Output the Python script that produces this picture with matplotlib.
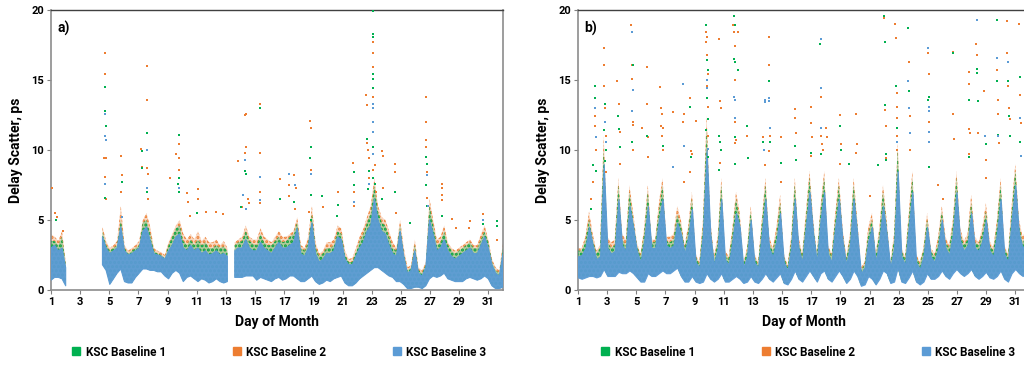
import numpy as np
import matplotlib
matplotlib.use("Agg")
import matplotlib.pyplot as plt
from matplotlib.lines import Line2D
from matplotlib.colors import to_rgba

plt.rcParams['font.family'] = ['Roboto', 'DejaVu Sans']
plt.rcParams['font.weight'] = 'bold'
plt.rcParams['hatch.linewidth'] = 1.4

nan = np.nan

# series names / colours
names = ['KSC Baseline 1', 'KSC Baseline 2', 'KSC Baseline 3']
colors = ['#00B050', '#ED7D31', '#5B9BD5']
day_ticks = list(range(1, 32, 2))

# ---- panel a: dense band, 4 readings per day (low edge, top of each series) ----
lo_a = [[0.7, 0.9, 0.9, 0.8], [0.3, nan, nan, nan], [nan, nan, nan, nan], [nan, nan, 1.8, 1.4],
        [0.4, 0.8, 1.2, 1.5], [0.6, 0.5, 0.5, 0.9], [1.2, 1.5, 1.5, 1.4], [1.4, 1.3, 1.3, 1.0],
        [0.8, 1.2, 1.4, 1.2], [0.6, 0.9, 1.0, 0.8], [0.6, 0.8, 0.7, 0.5], [0.6, 0.8, 0.6, 0.5],
        [0.6, nan, 0.9, 0.9], [0.9, 1.0, 1.0, 1.0], [0.7, 0.9, 0.8, 0.7], [0.6, 0.8, 0.9, 0.7],
        [0.8, 1.0, 1.0, 0.8], [0.6, 0.6, 0.8, 1.0], [0.6, 0.4, 0.5, 0.7], [0.6, 0.8, 0.9, 1.0],
        [0.5, 0.3, 0.3, 0.5], [0.8, 1.0, 1.2, 1.4], [1.6, 1.6, 1.4, 1.2], [1.0, 0.9, 0.6, 0.6],
        [0.4, 0.1, 0.1, 0.2], [0.2, 0.1, 0.3, 0.8], [1.0, 0.9, 1.0, 1.2], [0.8, 0.7, 0.6, 0.6],
        [0.6, 0.8, 0.9, 0.8], [0.7, 0.8, 1.0, 0.8], [0.3, 0.1, 0.1, 0.2]]
blue_a = [[3.0, 3.2, 2.8, 3.0], [1.6, nan, nan, nan], [nan, nan, nan, nan], [nan, nan, 3.8, 3.0],
          [2.6, 2.8, 3.0, 4.5], [2.8, 2.5, 2.6, 2.8], [3.0, 4.2, 4.5, 3.5], [2.6, 2.5, 2.4, 2.2],
          [2.8, 3.2, 3.8, 4.0], [3.0, 2.8, 3.2, 2.8], [3.0, 2.6, 2.8, 2.5], [2.6, 2.8, 2.5, 2.6],
          [2.4, nan, 2.8, 3.0], [3.0, 3.6, 3.0, 2.8], [2.8, 3.4, 3.0, 2.8], [2.6, 3.0, 3.4, 3.0],
          [3.0, 3.2, 3.4, 4.4], [2.6, 2.4, 3.0, 4.8], [2.6, 2.0, 2.2, 2.6], [2.6, 2.8, 3.8, 3.6],
          [2.2, 1.8, 1.8, 2.4], [3.0, 3.4, 4.2, 4.6], [6.5, 5.0, 4.2, 4.0], [3.2, 2.6, 2.4, 4.2],
          [2.4, 1.2, 1.4, 2.8], [1.2, 1.0, 1.6, 5.0], [4.0, 2.8, 3.0, 3.6], [2.8, 2.4, 2.2, 2.4],
          [2.6, 2.8, 3.0, 2.6], [2.6, 3.2, 3.8, 3.0], [1.8, 1.2, 1.0, 2.6]]
orange_a = [[4.0, 3.8, 3.5, 4.2], [2.0, nan, nan, nan], [nan, nan, nan, nan], [nan, nan, 4.5, 3.5],
            [3.0, 3.2, 3.5, 6.0], [3.2, 2.8, 3.0, 3.2], [3.5, 5.0, 5.5, 4.5], [3.0, 2.8, 2.7, 2.5],
            [3.4, 4.0, 4.6, 5.0], [4.0, 3.6, 4.0, 3.6], [4.2, 3.5, 3.8, 3.4], [3.4, 3.6, 3.2, 3.5],
            [3.0, nan, 3.4, 3.6], [3.8, 4.6, 3.8, 3.6], [3.6, 4.4, 3.8, 3.6], [3.4, 3.8, 4.2, 3.8],
            [3.8, 4.0, 4.2, 5.2], [3.2, 3.0, 3.8, 6.0], [3.4, 2.6, 2.8, 3.4], [3.4, 3.6, 4.6, 4.4],
            [2.8, 2.2, 2.3, 3.0], [3.8, 4.4, 5.2, 6.0], [8.0, 6.0, 5.2, 5.0], [4.2, 3.4, 3.0, 5.0],
            [3.0, 1.6, 1.8, 3.6], [1.6, 1.4, 2.0, 6.5], [5.0, 3.6, 3.8, 4.6], [3.4, 3.0, 2.8, 3.0],
            [3.2, 3.4, 3.6, 3.2], [3.2, 4.0, 4.6, 3.6], [2.2, 1.6, 1.4, 3.4]]
green_a = [[3.5, 3.5, 3.2, 3.8], [1.8, nan, nan, nan], [nan, nan, nan, nan], [nan, nan, 4.2, 3.2],
           [2.8, 3.0, 3.2, 5.0], [3.0, 2.6, 2.8, 3.0], [3.2, 4.8, 5.0, 4.0], [2.8, 2.6, 2.5, 2.3],
           [3.2, 3.8, 4.4, 4.6], [3.5, 3.2, 3.6, 3.2], [3.6, 3.2, 3.4, 3.0], [3.0, 3.2, 3.0, 3.1],
           [2.8, nan, 3.2, 3.4], [3.5, 4.2, 3.5, 3.3], [3.2, 4.0, 3.4, 3.2], [3.2, 3.5, 3.8, 3.4],
           [3.5, 3.8, 4.0, 4.8], [3.0, 2.8, 3.4, 5.4], [3.0, 2.4, 2.6, 3.0], [3.0, 3.2, 4.2, 4.0],
           [2.5, 2.0, 2.0, 2.7], [3.5, 4.0, 4.8, 5.5], [7.5, 5.6, 4.8, 4.6], [3.8, 3.0, 2.8, 4.6],
           [2.6, 1.4, 1.6, 3.2], [1.4, 1.2, 1.8, 6.0], [4.6, 3.2, 3.4, 4.2], [3.2, 2.8, 2.6, 2.8],
           [3.0, 3.2, 3.4, 3.0], [3.0, 3.6, 4.2, 3.4], [2.0, 1.4, 1.2, 3.0]]

# panel a: isolated high readings (day, ps)
green_pts_a = [(1.35, 5.0), (4.7, 14.5), (4.72, 12.8), (4.75, 11.7), (4.7, 6.6), (5.9, 7.7), (7.25, 9.9),
               (7.25, 8.7), (7.6, 11.2), (7.6, 7.0), (9.8, 11.1), (9.75, 8.0), (9.7, 7.6), (9.8, 7.0),
               (11.0, 5.5), (14.3, 8.5), (14.35, 8.3), (14.0, 5.9), (15.3, 13.0), (16.7, 6.5), (17.7, 6.3),
               (18.8, 10.2), (18.75, 9.4), (18.8, 6.8), (18.8, 5.0), (19.6, 6.7), (20.65, 6.1), (20.6, 5.3),
               (21.75, 8.4), (21.8, 7.5), (22.7, 10.8), (22.8, 8.5), (22.75, 7.2), (23.05, 19.9),
               (23.05, 18.3), (23.07, 18.1), (23.05, 15.4), (23.05, 15.1), (23.05, 14.4), (23.1, 10.2),
               (23.1, 8.0), (23.25, 7.6), (23.7, 6.5), (24.6, 7.0), (25.6, 4.8), (26.75, 9.5), (26.8, 9.0),
               (26.75, 7.5), (26.8, 6.0), (27.85, 5.3), (30.6, 4.7), (31.6, 4.9), (31.6, 4.6)]
orange_pts_a = [(1.05, 7.3), (1.3, 5.5), (1.4, 5.2), (1.8, 4.2), (4.68, 16.9), (4.7, 15.4), (4.66, 9.4),
                (4.75, 9.4), (4.72, 8.1), (4.8, 6.5), (5.8, 9.6), (5.85, 8.2), (5.8, 7.0), (7.2, 10.1),
                (7.25, 8.8), (7.55, 16.0), (7.55, 13.6), (7.6, 8.7), (7.62, 8.3), (7.65, 6.5), (9.15, 8.0),
                (9.55, 9.7), (9.75, 9.4), (9.8, 10.4), (9.75, 8.6), (10.3, 6.9), (10.4, 6.3), (10.5, 5.3),
                (11.05, 7.2), (11.1, 6.5), (11.6, 5.6), (12.35, 5.6), (12.8, 5.4), (13.8, 9.2), (14.3, 12.5),
                (14.35, 12.55), (14.35, 10.2), (14.3, 9.8), (14.1, 5.9), (14.5, 6.5), (14.55, 6.2),
                (15.3, 13.3), (15.3, 9.8), (15.35, 7.0), (15.3, 6.2), (16.7, 7.9), (17.3, 7.5), (17.3, 6.7),
                (17.7, 8.2), (17.8, 7.3), (17.75, 5.8), (18.75, 12.1), (18.8, 11.6), (18.8, 8.6), (18.7, 5.6),
                (19.6, 6.7), (19.65, 5.9), (20.65, 7.0), (21.7, 9.1), (21.75, 7.0), (21.8, 6.0), (22.6, 13.9),
                (22.65, 13.2), (22.7, 10.5), (22.75, 10.0), (22.8, 9.4), (22.8, 8.0), (23.05, 17.7),
                (23.05, 16.9), (23.05, 15.95), (23.05, 13.8), (23.1, 8.6), (23.25, 8.9), (23.3, 7.0),
                (23.7, 9.9), (23.75, 9.6), (23.75, 7.3), (24.6, 9.0), (24.6, 8.4), (24.65, 5.5), (26.7, 13.8),
                (26.7, 12.0), (26.75, 10.7), (26.75, 10.2), (26.8, 8.4), (26.8, 6.6), (27.8, 7.6), (27.8, 7.3),
                (27.85, 6.8), (27.8, 6.4), (28.5, 5.1), (28.8, 4.4), (29.7, 4.4), (29.75, 4.9), (30.6, 5.4),
                (31.6, 3.6)]
blue_pts_a = [(4.7, 12.6), (4.72, 11.0), (4.75, 10.7), (4.7, 7.6), (5.9, 5.2), (7.6, 10.0), (7.6, 7.3),
              (9.75, 7.3), (14.3, 9.3), (14.2, 6.8), (14.4, 5.8), (15.3, 8.1), (15.3, 6.4), (17.3, 8.3),
              (17.75, 7.5), (18.8, 8.3), (21.8, 6.3), (22.8, 7.6), (23.05, 13.3), (23.07, 13.0), (23.05, 12.0),
              (23.1, 11.3), (23.1, 9.7), (26.8, 8.2), (26.85, 6.0), (30.6, 5.0)]

# ---- panel b ----
lo_b = [[0.9, 0.8, 0.9, 1.0], [1.0, 0.9, 1.0, 1.5], [1.0, 1.0, 1.0, 1.3], [1.2, 1.2, 1.4, 1.2],
        [0.9, 0.6, 0.6, 1.2], [1.0, 1.0, 1.2, 1.4], [1.2, 1.2, 1.4, 1.6], [1.0, 0.6, 0.6, 1.0],
        [0.6, 0.5, 0.6, 1.2], [0.8, 0.6, 0.8, 1.2], [0.6, 0.6, 0.8, 1.0], [0.8, 0.5, 0.6, 1.0],
        [0.6, 0.5, 0.8, 1.2], [0.8, 0.6, 0.9, 1.2], [0.5, 0.4, 0.8, 1.4], [0.8, 0.6, 1.0, 1.4],
        [1.0, 0.6, 1.2, 1.4], [0.8, 0.6, 1.0, 1.4], [1.0, 0.5, 0.8, 1.4], [1.0, 0.3, 0.4, 1.0],
        [0.8, 0.4, 0.8, 1.4], [1.2, 0.5, 0.6, 1.6], [0.6, 0.5, 0.9, 1.4], [0.6, 0.4, 0.6, 1.2],
        [0.8, 0.8, 1.0, 1.4], [1.0, 0.8, 1.2, 1.5], [1.2, 1.0, 1.2, 1.5], [1.0, 0.8, 1.0, 1.3],
        [0.9, 0.8, 1.0, 1.4], [0.8, 0.6, 1.2, 1.5], [1.2, 1.0, 1.2, 1.2]]
blue_b = [[2.4, 2.5, 3.0, 4.5], [3.2, 2.2, 2.4, 9.0], [3.0, 2.6, 2.8, 6.5], [3.2, 2.8, 6.0, 4.5],
          [2.8, 2.0, 3.5, 6.0], [3.0, 3.0, 5.0, 6.5], [3.2, 3.0, 3.2, 4.8], [4.0, 2.6, 3.8, 5.8],
          [2.0, 1.6, 4.0, 10.0], [4.0, 1.8, 3.0, 6.5], [2.2, 1.8, 3.5, 5.5], [4.5, 1.6, 2.4, 5.0],
          [2.0, 1.6, 4.0, 6.5], [3.0, 2.4, 3.5, 5.5], [2.0, 1.4, 3.0, 6.5], [3.0, 2.0, 4.5, 7.0],
          [4.0, 2.0, 5.0, 7.0], [2.6, 2.0, 4.5, 6.5], [3.5, 1.8, 3.2, 6.5], [4.0, 1.2, 1.6, 3.5],
          [4.5, 2.0, 3.5, 6.0], [4.0, 1.6, 3.0, 8.5], [2.4, 1.8, 4.5, 7.0], [2.0, 1.5, 2.4, 4.5],
          [2.4, 2.0, 3.0, 5.0], [3.0, 2.5, 4.0, 7.0], [3.5, 2.8, 3.2, 5.5], [3.0, 2.8, 3.5, 5.0],
          [2.8, 2.4, 4.0, 6.5], [2.6, 2.0, 5.0, 7.5], [4.0, 3.0, 3.5, 3.5]]
orange_b = [[3.0, 3.0, 3.8, 5.6], [4.0, 2.8, 3.2, 11.0], [3.8, 3.4, 3.6, 8.0], [4.0, 3.6, 7.5, 5.5],
            [3.4, 2.6, 4.4, 7.5], [3.6, 3.6, 6.2, 8.0], [3.8, 3.8, 4.0, 6.0], [5.0, 3.2, 4.6, 7.0],
            [2.6, 2.0, 5.0, 12.5], [5.0, 2.4, 3.8, 8.0], [2.8, 2.4, 4.4, 7.0], [5.5, 2.0, 3.0, 6.0],
            [2.6, 2.0, 5.0, 8.0], [3.8, 3.0, 4.5, 6.8], [2.6, 1.8, 3.8, 8.0], [3.8, 2.6, 5.5, 8.5],
            [5.0, 2.6, 6.0, 8.5], [3.2, 2.6, 5.5, 8.0], [4.4, 2.4, 4.0, 8.0], [5.0, 1.6, 2.0, 4.5],
            [5.5, 2.6, 4.4, 7.5], [5.0, 2.0, 4.0, 10.5], [3.0, 2.4, 5.5, 8.5], [2.6, 2.0, 3.0, 5.5],
            [3.0, 2.6, 3.8, 6.0], [3.8, 3.2, 5.0, 8.5], [4.4, 3.5, 4.0, 6.8], [3.8, 3.4, 4.4, 6.2],
            [3.5, 3.0, 5.0, 8.0], [3.2, 2.6, 6.0, 9.0], [5.0, 3.8, 4.4, 4.4]]
green_b = [[2.8, 2.8, 3.5, 5.0], [3.6, 2.6, 3.0, 10.0], [3.4, 3.0, 3.2, 7.5], [3.6, 3.2, 7.0, 5.0],
           [3.2, 2.4, 4.0, 7.0], [3.4, 3.4, 5.6, 7.5], [3.5, 3.4, 3.6, 5.4], [4.6, 3.0, 4.2, 6.5],
           [2.4, 1.8, 4.5, 11.5], [4.6, 2.2, 3.4, 7.5], [2.6, 2.2, 4.0, 6.5], [5.0, 1.8, 2.8, 5.6],
           [2.4, 1.8, 4.6, 7.5], [3.4, 2.8, 4.0, 6.2], [2.4, 1.6, 3.4, 7.5], [3.4, 2.4, 5.0, 8.0],
           [4.6, 2.4, 5.6, 8.0], [3.0, 2.4, 5.0, 7.5], [4.0, 2.2, 3.6, 7.5], [4.6, 1.4, 1.8, 4.0],
           [5.0, 2.4, 4.0, 7.0], [4.6, 1.8, 3.6, 10.0], [2.8, 2.2, 5.0, 8.0], [2.4, 1.8, 2.8, 5.0],
           [2.8, 2.4, 3.4, 5.6], [3.4, 3.0, 4.6, 8.0], [4.0, 3.2, 3.6, 6.2], [3.4, 3.2, 4.0, 5.6],
           [3.2, 2.8, 4.6, 7.5], [3.0, 2.4, 5.5, 8.5], [4.6, 3.4, 4.0, 4.0]]

green_pts_b = [(1.9, 5.8), (2.0, 8.9), (2.15, 14.6), (2.2, 13.7), (2.25, 8.5), (2.85, 13.3), (2.8, 11.4),
               (2.9, 10.0), (2.85, 9.2), (3.75, 12.4), (3.8, 11.5), (3.85, 10.2), (4.75, 16.1), (4.7, 10.6),
               (5.75, 11.0), (6.8, 10.3), (8.7, 13.1), (8.75, 9.5), (9.8, 18.9), (9.85, 16.4), (9.9, 15.7),
               (9.85, 13.7), (9.9, 12.2), (9.8, 11.4), (9.9, 9.5), (10.7, 11.0), (10.75, 10.6), (10.8, 10.0),
               (10.7, 8.6), (11.7, 19.6), (11.75, 18.9), (11.7, 16.5), (11.75, 16.3), (11.8, 10.9),
               (11.75, 9.0), (12.0, 15.7), (12.6, 11.7), (12.65, 9.4), (13.7, 10.6), (14.1, 14.9),
               (14.15, 10.6), (14.9, 9.1), (15.9, 10.3), (15.95, 9.3), (17.0, 9.8), (17.6, 17.6), (17.7, 9.7),
               (19.0, 11.7), (19.05, 10.0), (19.6, 9.0), (21.6, 8.9), (22.0, 19.6), (22.05, 17.7),
               (22.05, 13.2), (22.1, 9.7), (22.1, 9.3), (22.8, 14.6), (22.85, 11.6), (23.65, 18.7),
               (23.7, 14.2), (25.05, 13.8), (25.0, 13.6), (25.05, 8.8), (26.7, 16.95), (27.8, 13.6),
               (27.85, 9.5), (28.35, 15.8), (28.35, 15.5), (28.4, 13.5), (28.95, 10.4), (29.75, 19.3),
               (29.75, 14.9), (29.8, 11.1), (30.5, 14.9), (30.55, 12.4), (30.6, 11.0), (31.3, 15.2),
               (31.3, 10.6)]
orange_pts_b = [(1.9, 6.5), (2.0, 8.9), (2.05, 7.7), (2.2, 12.4), (2.2, 11.7), (2.25, 10.0), (2.75, 17.3),
                (2.8, 16.1), (2.8, 14.6), (2.85, 13.0), (2.9, 11.0), (2.9, 8.4), (3.7, 14.9), (3.8, 13.3),
                (3.85, 11.3), (3.9, 9.0), (4.65, 18.9), (4.7, 16.1), (4.7, 15.1), (4.75, 12.0), (4.8, 11.8),
                (4.75, 10.0), (5.4, 11.6), (5.7, 15.9), (5.75, 13.3), (5.8, 10.9), (5.8, 9.5), (6.65, 14.5),
                (6.7, 13.0), (6.75, 12.6), (6.7, 11.7), (6.8, 11.6), (6.75, 11.0), (6.8, 10.0), (7.5, 12.7),
                (8.25, 12.6), (8.2, 12.0), (8.25, 7.7), (8.7, 13.7), (8.75, 9.9), (8.8, 9.7), (8.7, 8.4),
                (9.1, 12.1), (9.75, 18.9), (9.8, 18.4), (9.85, 18.1), (9.8, 17.7), (9.85, 16.8), (9.9, 15.4),
                (9.85, 14.6), (9.9, 13.1), (9.95, 11.0), (10.7, 17.9), (10.75, 13.5), (10.8, 13.0),
                (10.75, 9.1), (11.65, 18.9), (11.7, 18.4), (11.75, 17.4), (11.75, 15.0), (11.8, 12.0),
                (11.85, 10.7), (11.8, 10.5), (12.0, 18.4), (12.6, 11.0), (13.7, 10.9), (13.8, 8.9),
                (14.1, 18.1), (14.1, 16.1), (14.15, 11.0), (14.1, 9.9), (14.9, 10.95), (14.95, 7.7),
                (15.9, 12.9), (15.9, 12.3), (15.95, 11.2), (17.0, 13.1), (17.0, 11.9), (17.05, 10.95),
                (17.0, 9.6), (17.65, 13.8), (17.7, 11.6), (17.7, 11.0), (17.75, 10.4), (17.8, 10.0),
                (18.0, 11.6), (18.05, 10.9), (19.0, 12.5), (19.05, 10.4), (19.0, 9.0), (20.1, 12.6),
                (20.15, 10.4), (20.1, 9.8), (21.0, 6.7), (22.0, 19.4), (22.05, 12.85), (22.1, 11.7),
                (22.1, 9.4), (22.75, 19.0), (22.8, 18.0), (22.8, 14.6), (22.85, 14.1), (22.85, 13.1),
                (22.9, 12.3), (22.85, 11.0), (22.9, 10.0), (23.7, 16.3), (23.75, 12.4), (23.8, 10.0),
                (25.0, 16.9), (25.05, 15.4), (25.1, 12.0), (25.7, 7.5), (26.0, 6.5), (26.7, 17.0),
                (26.75, 12.6), (26.8, 10.8), (27.8, 15.6), (27.8, 14.7), (27.85, 11.5), (27.9, 11.2),
                (27.85, 9.7), (28.3, 17.6), (28.35, 16.8), (28.4, 11.2), (28.85, 14.2), (28.9, 11.0),
                (28.95, 9.3), (29.0, 8.0), (29.75, 15.7), (29.8, 13.6), (29.8, 12.6), (29.85, 10.5),
                (30.4, 19.2), (30.45, 16.9), (30.5, 14.6), (30.55, 13.0), (30.6, 12.2), (31.25, 19.0),
                (31.3, 13.9), (31.35, 11.9)]
blue_pts_b = [(2.2, 13.0), (2.25, 10.9), (2.85, 12.0), (2.9, 10.6), (4.7, 18.4), (4.75, 14.3), (4.72, 12.8),
              (7.5, 8.8), (8.2, 14.7), (8.25, 10.3), (9.85, 15.0), (9.85, 14.4), (9.9, 10.1), (11.7, 13.8),
              (11.75, 13.6), (11.8, 12.3), (13.75, 10.0), (13.8, 13.6), (13.85, 13.4), (14.1, 13.7),
              (14.1, 13.5), (14.15, 11.6), (17.65, 17.9), (17.65, 14.45), (17.7, 11.6), (22.85, 10.6),
              (23.65, 14.9), (23.7, 13.0), (23.75, 11.2), (25.0, 17.3), (25.05, 13.1), (25.05, 12.8),
              (25.1, 11.3), (25.1, 10.6), (28.35, 19.3), (28.9, 11.0), (29.75, 16.6), (29.8, 11.0),
              (30.5, 16.3), (31.3, 12.3), (31.35, 9.6)]


def draw_panel(ax, lo, tops, pts, tag):
    lo = np.ravel(lo)
    t = np.linspace(1, 32, lo.size)   # 4 readings per day
    # orange (back) and green as speckled zones, solid blue core in front
    for k, z in [(1, 2), (0, 3)]:
        ax.fill_between(t, lo, np.ravel(tops[k]), facecolor=to_rgba(colors[k], 0.3),
                        edgecolor=colors[k], hatch='....', lw=0, zorder=z)
    ax.fill_between(t, lo, np.ravel(tops[2]), color=colors[2], lw=0.8, alpha=0.95, zorder=4)
    for k in [1, 0, 2]:
        xs = [p[0] for p in pts[k]]
        ys = [p[1] for p in pts[k]]
        ax.scatter(xs, ys, s=4, marker='s', color=colors[k], lw=0, zorder=6)
    ax.set_xlim(1, 32)
    ax.set_ylim(0, 20)
    ax.set_xticks(day_ticks)
    ax.set_yticks([0, 5, 10, 15, 20])
    ax.tick_params(labelsize=8, length=3, width=0.8, color='#808080', pad=2)
    for lab in ax.get_xticklabels() + ax.get_yticklabels():
        lab.set_fontweight('bold')
    for s in ['left', 'right', 'bottom']:
        ax.spines[s].set_color('#8c8c8c')
        ax.spines[s].set_linewidth(1.2)
    ax.spines['top'].set_color('#404040')
    ax.spines['top'].set_linewidth(1.0)
    ax.set_xlabel('Day of Month', fontsize=10, fontweight='bold', labelpad=6)
    ax.set_ylabel('Delay Scatter, ps', fontsize=10, fontweight='bold', labelpad=6)
    ax.text(0.014, 0.935, tag, transform=ax.transAxes, fontsize=10, fontweight='bold', va='center')


fig = plt.figure(figsize=(10.24, 3.65), dpi=100)
ax1 = fig.add_axes([51 / 1024, 75 / 365, 452 / 1024, 280 / 365])
ax2 = fig.add_axes([578 / 1024, 75 / 365, 452 / 1024, 280 / 365])

draw_panel(ax1, lo_a, [green_a, orange_a, blue_a], [green_pts_a, orange_pts_a, blue_pts_a], 'a)')
draw_panel(ax2, lo_b, [green_b, orange_b, blue_b], [green_pts_b, orange_pts_b, blue_pts_b], 'b)')

# legends under each panel
handles = [Line2D([], [], ls='', marker='s', ms=6, color=c) for c in colors]
for cx in [279 / 1024, 808 / 1024]:
    fig.legend(handles, names, loc='center', bbox_to_anchor=(cx, 1 - 352 / 365), ncol=3,
               frameon=False, prop={'size': 8.5, 'weight': 'bold'}, handlelength=0.8,
               handletextpad=0.4, columnspacing=5.6, borderaxespad=0)

fig.savefig('out.png', dpi=100)
